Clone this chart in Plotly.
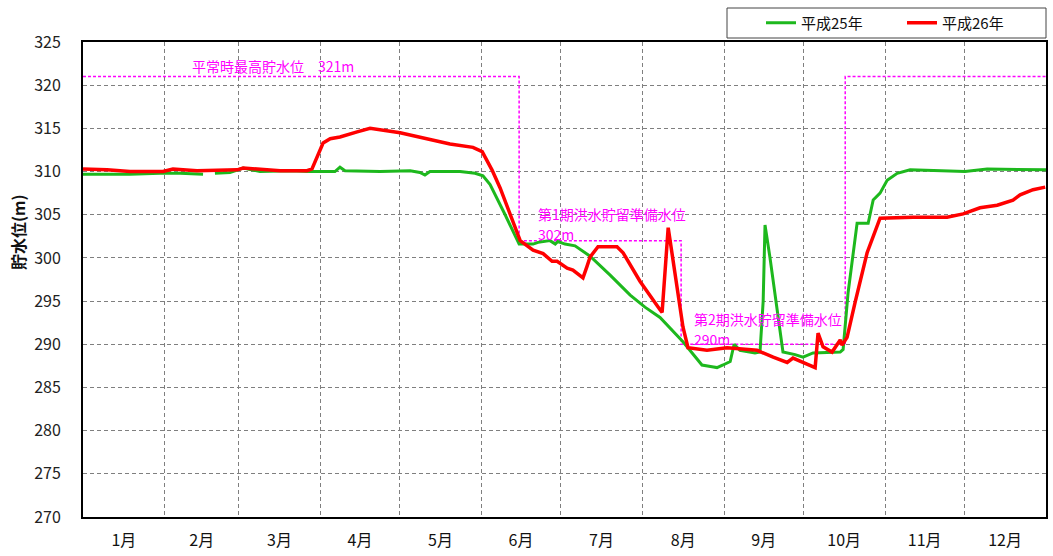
import plotly.graph_objects as go

# ---- data (day of year, storage level in m) ----
h25_day = [0, 6.4, 17.8, 29.2, 36.8, 45.5, None, 50.0, 55.7, 60.7, 63.5, 67.1, 78.5, 86.0, 95.5, 97.4, 99.3,
           112.6, 124.0, 127.7, 129.6, 131.5, 142.9, 148.6, 151.6, 154.3, 160.0, 165.3, 170.6, 172.5, 177.0,
           179.0, 180.0, 182.7, 186.5, 192.2, 199.8, 207.4, 213.0, 218.7, 227.4, 234.6, 238.4, 240.3, 242.6,
           245.3, 246.8, 249.0, 254.7, 256.6, 257.8, 258.5, 260.4, 265.3, 269.9, 272.9, 276.7, 287.0, 288.1,
           290.0, 293.4, 297.6, 299.5, 302.1, 304.8, 308.6, 313.5, 334.3, 342.7, 365.0]
h25_level = [309.7, 309.7, 309.7, 309.8, 309.8, 309.7, None, 309.8, 309.9, 310.4, 310.2, 310.0, 310.1, 310.0,
             310.0, 310.5, 310.1, 310.0, 310.1, 309.9, 309.6, 310.0, 310.0, 309.8, 309.5, 308.5, 305.0, 301.6,
             301.6, 301.8, 302.0, 301.6, 301.9, 301.6, 301.4, 300.2, 298.0, 295.7, 294.3, 293.1, 290.3, 287.6,
             287.4, 287.3, 287.6, 288.0, 290.0, 289.3, 289.0, 289.1, 295.0, 303.8, 300.0, 289.1, 288.8, 288.5,
             289.0, 289.1, 289.4, 296.0, 304.0, 304.0, 306.7, 307.5, 309.0, 309.8, 310.2, 310.0, 310.3, 310.2]

h26_day = [0, 9.1, 17.8, 30.3, 34.1, 43.2, 58.4, 60.7, 74.7, 84.9, 86.8, 88.7, 91.0, 93.7, 97.4, 103.9, 108.8,
           120.2, 128.9, 139.1, 147.8, 151.3, 155.0, 158.1, 165.7, 170.6, 174.4, 177.8, 179.7, 183.5, 185.7,
           189.5, 191.0, 192.2, 195.2, 202.4, 204.7, 211.1, 218.7, 219.5, 221.8, 227.4, 229.3, 236.5, 244.1,
           255.5, 261.6, 266.9, 269.1, 277.5, 278.6, 280.5, 283.9, 287.0, 287.7, 289.6, 292.6, 297.2, 302.1,
           314.6, 327.5, 333.6, 340.0, 346.5, 352.5, 355.2, 360.1, 364.7]
h26_level = [310.3, 310.2, 310.0, 310.0, 310.3, 310.1, 310.2, 310.4, 310.1, 310.1, 310.3, 311.7, 313.3, 313.8,
             314.0, 314.6, 315.0, 314.5, 313.9, 313.2, 312.8, 312.3, 310.2, 308.1, 302.0, 300.9, 300.5, 299.6,
             299.6, 298.8, 298.6, 297.7, 299.0, 300.1, 301.3, 301.3, 300.6, 297.3, 294.0, 293.7, 303.5, 292.0,
             289.6, 289.3, 289.6, 289.3, 288.5, 287.9, 288.4, 287.3, 291.3, 289.7, 289.1, 290.5, 289.9, 290.8,
             294.8, 300.6, 304.6, 304.7, 304.7, 305.1, 305.8, 306.1, 306.7, 307.3, 307.9, 308.2]

limit_day = [0, 165.3, 226.7, 288.9, 365]
limit_level = [321, 302, 290, 321, 321]

month_len = [31, 28, 31, 30, 31, 30, 31, 31, 30, 31, 30, 31]
month_labels = ["1月", "2月", "3月", "4月", "5月", "6月", "7月", "8月", "9月", "10月", "11月", "12月"]
series_names = ["平成25年", "平成26年"]

bounds = [0]
for m in month_len:
    bounds.append(bounds[-1] + m)
mids = [(bounds[i] + bounds[i + 1]) / 2 for i in range(12)]

FONT = "Noto Sans CJK JP"
MAG = "#FF00FF"
L, R, T, B = 83, 7, 42, 39
PW, PH = 1053 - L - R, 556 - T - B

fig = go.Figure()
fig.add_trace(go.Scatter(x=limit_day, y=limit_level, mode="lines", line_shape="hv",
                         line=dict(color=MAG, width=1.5, dash="3px,2px"), showlegend=False,
                         hoverinfo="skip"))
fig.add_trace(go.Scatter(x=h25_day, y=h25_level, mode="lines", name=series_names[0],
                         line=dict(color="#1DB81D", width=3), connectgaps=False))
fig.add_trace(go.Scatter(x=h26_day, y=h26_level, mode="lines", name=series_names[1],
                         line=dict(color="#FF0000", width=3.5)))

ann = dict(xref="x", yref="y", showarrow=False, xanchor="left", yanchor="middle",
           font=dict(family=FONT, size=14, color=MAG))
fig.add_annotation(x=40.5, y=322.2, text="平常時最高貯水位　321m", **ann)
fig.add_annotation(x=171.8, y=305.1, text="第1期洪水貯留準備水位", **ann)
fig.add_annotation(x=171.8, y=302.8, text="302m", **ann)
fig.add_annotation(x=231.0, y=292.9, text="第2期洪水貯留準備水位", **ann)
fig.add_annotation(x=231.0, y=290.6, text="290m", **ann)

# y-axis title
fig.add_annotation(xref="paper", yref="paper", x=(18 - L) / PW, y=(517 - 232) / PH,
                   xanchor="center", yanchor="middle", showarrow=False, textangle=-90,
                   text="<b>貯水位(m)</b>", font=dict(family=FONT, size=16, color="#111111"))

# legend frame
fig.add_shape(type="rect", xref="paper", yref="paper",
              x0=(727 - L) / PW, x1=(1046 - L) / PW, y0=(517 - 38) / PH, y1=(517 - 8) / PH,
              line=dict(color="#444444", width=1), fillcolor="white", layer="below")

fig.update_layout(
    width=1053, height=556,
    margin=dict(l=L, r=R, t=T, b=B, autoexpand=False),
    paper_bgcolor="white", plot_bgcolor="white",
    font=dict(family=FONT, size=14, color="#222222"),
    showlegend=True,
    legend=dict(orientation="h", x=(761 - L) / PW, xanchor="left",
                y=(517 - 23) / PH, yanchor="middle",
                bgcolor="rgba(0,0,0,0)", borderwidth=0,
                font=dict(family=FONT, size=15, color="#111111"),
                entrywidth=96, entrywidthmode="pixels", itemwidth=30),
    xaxis=dict(range=[0, 365], tickmode="array", tickvals=mids, ticktext=month_labels,
               showgrid=False, zeroline=False, ticks="", ticklabelstandoff=8,
               showline=True, mirror=True, linecolor="black", linewidth=2,
               tickfont=dict(size=16, color="#111111"),
               minor=dict(tickmode="array", tickvals=bounds[1:-1], showgrid=True,
                          gridcolor="#7F7F7F", griddash="4px,3px", gridwidth=1, ticks="")),
    yaxis=dict(range=[270, 325], tickmode="linear", tick0=270, dtick=5,
               showgrid=True, gridcolor="#7F7F7F", griddash="4px,3px", gridwidth=1,
               zeroline=False, ticks="", ticklabelstandoff=17,
               showline=True, mirror=True, linecolor="black", linewidth=2,
               tickfont=dict(size=16, color="#222222")),
)

fig.write_html("out.html", config={"displayModeBar": False},
               post_script="document.body.style.margin='0';document.body.style.padding='0';"
                           "document.body.style.overflow='hidden';")
